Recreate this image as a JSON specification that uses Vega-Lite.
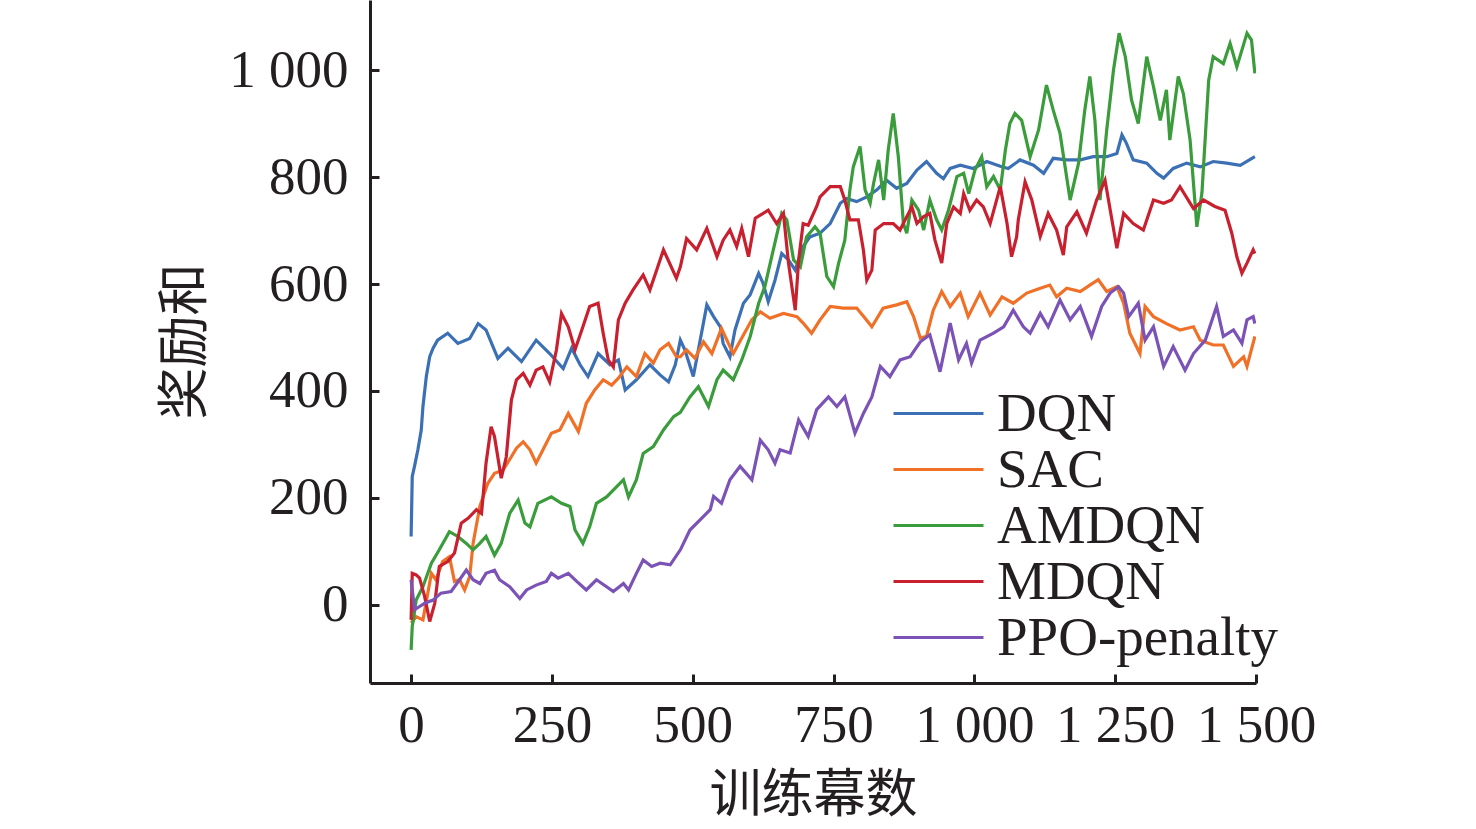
{
  "$schema": "https://vega.github.io/schema/vega-lite/v6.json",
  "autosize": "none",
  "width": 886,
  "height": 683,
  "padding": {"left": 370, "top": 0, "right": 220, "bottom": 146},
  "background": "white",
  "config": {
    "view": {"stroke": null},
    "font": "Liberation Serif",
    "axis": {
      "grid": false,
      "domainColor": "#231f20",
      "domainWidth": 3,
      "tickColor": "#231f20",
      "tickWidth": 3,
      "tickSize": -9,
      "labelFont": "Liberation Serif",
      "labelFontSize": 53,
      "labelColor": "#231f20",
      "titleFont": "Noto Sans CJK SC",
      "titleFontSize": 52,
      "titleFontWeight": "normal",
      "titleColor": "#231f20"
    }
  },
  "data": {
    "values": [
      {"algo":"DQN","episode":0,"reward":128},{"algo":"DQN","episode":2,"reward":240},{"algo":"DQN","episode":6,"reward":259},{"algo":"DQN","episode":12,"reward":290},{"algo":"DQN","episode":18,"reward":327},{"algo":"DQN","episode":21,"reward":371},{"algo":"DQN","episode":27,"reward":427},{"algo":"DQN","episode":33,"reward":464},{"algo":"DQN","episode":39,"reward":480},{"algo":"DQN","episode":47,"reward":495},{"algo":"DQN","episode":65,"reward":508},{"algo":"DQN","episode":83,"reward":489},{"algo":"DQN","episode":104,"reward":498},{"algo":"DQN","episode":119,"reward":526},{"algo":"DQN","episode":133,"reward":514},{"algo":"DQN","episode":154,"reward":461},{"algo":"DQN","episode":172,"reward":480},{"algo":"DQN","episode":196,"reward":455},{"algo":"DQN","episode":222,"reward":495},{"algo":"DQN","episode":246,"reward":470},{"algo":"DQN","episode":270,"reward":442},{"algo":"DQN","episode":285,"reward":480},{"algo":"DQN","episode":300,"reward":449},{"algo":"DQN","episode":314,"reward":427},{"algo":"DQN","episode":332,"reward":470},{"algo":"DQN","episode":353,"reward":449},{"algo":"DQN","episode":368,"reward":458},{"algo":"DQN","episode":380,"reward":402},{"algo":"DQN","episode":400,"reward":421},{"algo":"DQN","episode":424,"reward":449},{"algo":"DQN","episode":442,"reward":430},{"algo":"DQN","episode":457,"reward":417},{"algo":"DQN","episode":469,"reward":449},{"algo":"DQN","episode":478,"reward":495},{"algo":"DQN","episode":486,"reward":477},{"algo":"DQN","episode":501,"reward":427},{"algo":"DQN","episode":510,"reward":477},{"algo":"DQN","episode":525,"reward":561},{"algo":"DQN","episode":537,"reward":539},{"algo":"DQN","episode":549,"reward":520},{"algo":"DQN","episode":554,"reward":489},{"algo":"DQN","episode":566,"reward":464},{"algo":"DQN","episode":575,"reward":514},{"algo":"DQN","episode":590,"reward":564},{"algo":"DQN","episode":602,"reward":580},{"algo":"DQN","episode":617,"reward":620},{"algo":"DQN","episode":625,"reward":601},{"algo":"DQN","episode":634,"reward":567},{"algo":"DQN","episode":646,"reward":607},{"algo":"DQN","episode":658,"reward":657},{"algo":"DQN","episode":670,"reward":645},{"algo":"DQN","episode":682,"reward":626},{"algo":"DQN","episode":696,"reward":670},{"algo":"DQN","episode":708,"reward":688},{"algo":"DQN","episode":726,"reward":695},{"algo":"DQN","episode":744,"reward":713},{"algo":"DQN","episode":762,"reward":751},{"algo":"DQN","episode":773,"reward":760},{"algo":"DQN","episode":791,"reward":754},{"algo":"DQN","episode":809,"reward":763},{"algo":"DQN","episode":827,"reward":776},{"algo":"DQN","episode":844,"reward":794},{"algo":"DQN","episode":862,"reward":779},{"algo":"DQN","episode":880,"reward":788},{"algo":"DQN","episode":898,"reward":813},{"algo":"DQN","episode":915,"reward":829},{"algo":"DQN","episode":933,"reward":807},{"algo":"DQN","episode":945,"reward":797},{"algo":"DQN","episode":957,"reward":816},{"algo":"DQN","episode":975,"reward":822},{"algo":"DQN","episode":998,"reward":816},{"algo":"DQN","episode":1022,"reward":829},{"algo":"DQN","episode":1046,"reward":820},{"algo":"DQN","episode":1060,"reward":816},{"algo":"DQN","episode":1081,"reward":832},{"algo":"DQN","episode":1105,"reward":822},{"algo":"DQN","episode":1123,"reward":807},{"algo":"DQN","episode":1140,"reward":835},{"algo":"DQN","episode":1164,"reward":832},{"algo":"DQN","episode":1188,"reward":832},{"algo":"DQN","episode":1211,"reward":838},{"algo":"DQN","episode":1235,"reward":838},{"algo":"DQN","episode":1253,"reward":844},{"algo":"DQN","episode":1262,"reward":879},{"algo":"DQN","episode":1270,"reward":863},{"algo":"DQN","episode":1282,"reward":832},{"algo":"DQN","episode":1306,"reward":826},{"algo":"DQN","episode":1324,"reward":807},{"algo":"DQN","episode":1336,"reward":798},{"algo":"DQN","episode":1353,"reward":816},{"algo":"DQN","episode":1377,"reward":826},{"algo":"DQN","episode":1401,"reward":819},{"algo":"DQN","episode":1424,"reward":829},{"algo":"DQN","episode":1448,"reward":826},{"algo":"DQN","episode":1472,"reward":822},{"algo":"DQN","episode":1498,"reward":838},

      {"algo":"SAC","episode":0,"reward":-34},{"algo":"SAC","episode":9,"reward":-22},{"algo":"SAC","episode":21,"reward":-28},{"algo":"SAC","episode":36,"reward":59},{"algo":"SAC","episode":44,"reward":47},{"algo":"SAC","episode":56,"reward":81},{"algo":"SAC","episode":68,"reward":90},{"algo":"SAC","episode":77,"reward":44},{"algo":"SAC","episode":86,"reward":47},{"algo":"SAC","episode":95,"reward":28},{"algo":"SAC","episode":104,"reward":53},{"algo":"SAC","episode":110,"reward":115},{"algo":"SAC","episode":122,"reward":184},{"algo":"SAC","episode":136,"reward":227},{"algo":"SAC","episode":148,"reward":246},{"algo":"SAC","episode":163,"reward":252},{"algo":"SAC","episode":178,"reward":277},{"algo":"SAC","episode":187,"reward":293},{"algo":"SAC","episode":199,"reward":305},{"algo":"SAC","episode":211,"reward":290},{"algo":"SAC","episode":222,"reward":265},{"algo":"SAC","episode":237,"reward":296},{"algo":"SAC","episode":249,"reward":321},{"algo":"SAC","episode":264,"reward":327},{"algo":"SAC","episode":279,"reward":358},{"algo":"SAC","episode":297,"reward":324},{"algo":"SAC","episode":311,"reward":377},{"algo":"SAC","episode":326,"reward":402},{"algo":"SAC","episode":341,"reward":421},{"algo":"SAC","episode":356,"reward":411},{"algo":"SAC","episode":368,"reward":424},{"algo":"SAC","episode":383,"reward":445},{"algo":"SAC","episode":400,"reward":427},{"algo":"SAC","episode":415,"reward":470},{"algo":"SAC","episode":430,"reward":452},{"algo":"SAC","episode":442,"reward":477},{"algo":"SAC","episode":457,"reward":489},{"algo":"SAC","episode":471,"reward":464},{"algo":"SAC","episode":478,"reward":464},{"algo":"SAC","episode":489,"reward":477},{"algo":"SAC","episode":504,"reward":461},{"algo":"SAC","episode":519,"reward":492},{"algo":"SAC","episode":534,"reward":470},{"algo":"SAC","episode":551,"reward":517},{"algo":"SAC","episode":566,"reward":483},{"algo":"SAC","episode":572,"reward":470},{"algo":"SAC","episode":587,"reward":499},{"algo":"SAC","episode":605,"reward":533},{"algo":"SAC","episode":620,"reward":548},{"algo":"SAC","episode":637,"reward":536},{"algo":"SAC","episode":661,"reward":545},{"algo":"SAC","episode":685,"reward":539},{"algo":"SAC","episode":696,"reward":527},{"algo":"SAC","episode":711,"reward":508},{"algo":"SAC","episode":726,"reward":533},{"algo":"SAC","episode":744,"reward":558},{"algo":"SAC","episode":767,"reward":555},{"algo":"SAC","episode":791,"reward":555},{"algo":"SAC","episode":806,"reward":536},{"algo":"SAC","episode":818,"reward":520},{"algo":"SAC","episode":838,"reward":555},{"algo":"SAC","episode":862,"reward":561},{"algo":"SAC","episode":880,"reward":567},{"algo":"SAC","episode":892,"reward":539},{"algo":"SAC","episode":904,"reward":499},{"algo":"SAC","episode":915,"reward":502},{"algo":"SAC","episode":927,"reward":551},{"algo":"SAC","episode":942,"reward":586},{"algo":"SAC","episode":957,"reward":558},{"algo":"SAC","episode":975,"reward":583},{"algo":"SAC","episode":989,"reward":539},{"algo":"SAC","episode":1010,"reward":583},{"algo":"SAC","episode":1028,"reward":542},{"algo":"SAC","episode":1049,"reward":576},{"algo":"SAC","episode":1069,"reward":564},{"algo":"SAC","episode":1093,"reward":583},{"algo":"SAC","episode":1117,"reward":592},{"algo":"SAC","episode":1134,"reward":598},{"algo":"SAC","episode":1146,"reward":576},{"algo":"SAC","episode":1164,"reward":592},{"algo":"SAC","episode":1188,"reward":586},{"algo":"SAC","episode":1205,"reward":598},{"algo":"SAC","episode":1220,"reward":608},{"algo":"SAC","episode":1235,"reward":586},{"algo":"SAC","episode":1253,"reward":595},{"algo":"SAC","episode":1265,"reward":564},{"algo":"SAC","episode":1276,"reward":508},{"algo":"SAC","episode":1294,"reward":470},{"algo":"SAC","episode":1303,"reward":558},{"algo":"SAC","episode":1318,"reward":539},{"algo":"SAC","episode":1341,"reward":526},{"algo":"SAC","episode":1365,"reward":514},{"algo":"SAC","episode":1389,"reward":520},{"algo":"SAC","episode":1401,"reward":495},{"algo":"SAC","episode":1424,"reward":486},{"algo":"SAC","episode":1442,"reward":486},{"algo":"SAC","episode":1460,"reward":446},{"algo":"SAC","episode":1478,"reward":464},{"algo":"SAC","episode":1484,"reward":446},{"algo":"SAC","episode":1498,"reward":502},

      {"algo":"AMDQN","episode":0,"reward":-84},{"algo":"AMDQN","episode":2,"reward":-40},{"algo":"AMDQN","episode":4,"reward":-28},{"algo":"AMDQN","episode":9,"reward":9},{"algo":"AMDQN","episode":21,"reward":34},{"algo":"AMDQN","episode":36,"reward":78},{"algo":"AMDQN","episode":50,"reward":103},{"algo":"AMDQN","episode":68,"reward":137},{"algo":"AMDQN","episode":83,"reward":128},{"algo":"AMDQN","episode":98,"reward":115},{"algo":"AMDQN","episode":110,"reward":103},{"algo":"AMDQN","episode":122,"reward":115},{"algo":"AMDQN","episode":133,"reward":128},{"algo":"AMDQN","episode":148,"reward":93},{"algo":"AMDQN","episode":160,"reward":115},{"algo":"AMDQN","episode":175,"reward":171},{"algo":"AMDQN","episode":190,"reward":196},{"algo":"AMDQN","episode":202,"reward":153},{"algo":"AMDQN","episode":211,"reward":146},{"algo":"AMDQN","episode":225,"reward":190},{"algo":"AMDQN","episode":249,"reward":202},{"algo":"AMDQN","episode":267,"reward":190},{"algo":"AMDQN","episode":282,"reward":184},{"algo":"AMDQN","episode":291,"reward":140},{"algo":"AMDQN","episode":305,"reward":115},{"algo":"AMDQN","episode":317,"reward":146},{"algo":"AMDQN","episode":329,"reward":190},{"algo":"AMDQN","episode":347,"reward":202},{"algo":"AMDQN","episode":365,"reward":221},{"algo":"AMDQN","episode":377,"reward":234},{"algo":"AMDQN","episode":386,"reward":202},{"algo":"AMDQN","episode":400,"reward":234},{"algo":"AMDQN","episode":412,"reward":283},{"algo":"AMDQN","episode":430,"reward":296},{"algo":"AMDQN","episode":448,"reward":327},{"algo":"AMDQN","episode":466,"reward":352},{"algo":"AMDQN","episode":478,"reward":360},{"algo":"AMDQN","episode":495,"reward":389},{"algo":"AMDQN","episode":510,"reward":408},{"algo":"AMDQN","episode":528,"reward":371},{"algo":"AMDQN","episode":543,"reward":421},{"algo":"AMDQN","episode":554,"reward":439},{"algo":"AMDQN","episode":572,"reward":421},{"algo":"AMDQN","episode":587,"reward":458},{"algo":"AMDQN","episode":602,"reward":502},{"algo":"AMDQN","episode":617,"reward":564},{"algo":"AMDQN","episode":628,"reward":595},{"algo":"AMDQN","episode":643,"reward":664},{"algo":"AMDQN","episode":658,"reward":732},{"algo":"AMDQN","episode":667,"reward":720},{"algo":"AMDQN","episode":679,"reward":645},{"algo":"AMDQN","episode":691,"reward":632},{"algo":"AMDQN","episode":702,"reward":688},{"algo":"AMDQN","episode":717,"reward":707},{"algo":"AMDQN","episode":726,"reward":695},{"algo":"AMDQN","episode":738,"reward":614},{"algo":"AMDQN","episode":750,"reward":595},{"algo":"AMDQN","episode":759,"reward":639},{"algo":"AMDQN","episode":770,"reward":682},{"algo":"AMDQN","episode":779,"reward":776},{"algo":"AMDQN","episode":785,"reward":819},{"algo":"AMDQN","episode":797,"reward":857},{"algo":"AMDQN","episode":806,"reward":776},{"algo":"AMDQN","episode":815,"reward":751},{"algo":"AMDQN","episode":821,"reward":788},{"algo":"AMDQN","episode":830,"reward":832},{"algo":"AMDQN","episode":839,"reward":757},{"algo":"AMDQN","episode":847,"reward":850},{"algo":"AMDQN","episode":856,"reward":919},{"algo":"AMDQN","episode":865,"reward":838},{"algo":"AMDQN","episode":874,"reward":713},{"algo":"AMDQN","episode":880,"reward":695},{"algo":"AMDQN","episode":889,"reward":757},{"algo":"AMDQN","episode":901,"reward":738},{"algo":"AMDQN","episode":910,"reward":701},{"algo":"AMDQN","episode":921,"reward":757},{"algo":"AMDQN","episode":933,"reward":720},{"algo":"AMDQN","episode":942,"reward":701},{"algo":"AMDQN","episode":954,"reward":738},{"algo":"AMDQN","episode":969,"reward":801},{"algo":"AMDQN","episode":981,"reward":807},{"algo":"AMDQN","episode":990,"reward":769},{"algo":"AMDQN","episode":1001,"reward":813},{"algo":"AMDQN","episode":1013,"reward":838},{"algo":"AMDQN","episode":1022,"reward":782},{"algo":"AMDQN","episode":1034,"reward":801},{"algo":"AMDQN","episode":1046,"reward":776},{"algo":"AMDQN","episode":1055,"reward":850},{"algo":"AMDQN","episode":1063,"reward":900},{"algo":"AMDQN","episode":1072,"reward":919},{"algo":"AMDQN","episode":1084,"reward":906},{"algo":"AMDQN","episode":1099,"reward":838},{"algo":"AMDQN","episode":1114,"reward":888},{"algo":"AMDQN","episode":1128,"reward":972},{"algo":"AMDQN","episode":1140,"reward":925},{"algo":"AMDQN","episode":1152,"reward":882},{"algo":"AMDQN","episode":1170,"reward":757},{"algo":"AMDQN","episode":1185,"reward":826},{"algo":"AMDQN","episode":1196,"reward":925},{"algo":"AMDQN","episode":1205,"reward":988},{"algo":"AMDQN","episode":1214,"reward":906},{"algo":"AMDQN","episode":1223,"reward":757},{"algo":"AMDQN","episode":1235,"reward":888},{"algo":"AMDQN","episode":1247,"reward":1000},{"algo":"AMDQN","episode":1257,"reward":1069},{"algo":"AMDQN","episode":1268,"reward":1025},{"algo":"AMDQN","episode":1279,"reward":944},{"algo":"AMDQN","episode":1291,"reward":900},{"algo":"AMDQN","episode":1306,"reward":1025},{"algo":"AMDQN","episode":1318,"reward":969},{"algo":"AMDQN","episode":1330,"reward":906},{"algo":"AMDQN","episode":1341,"reward":963},{"algo":"AMDQN","episode":1347,"reward":869},{"algo":"AMDQN","episode":1362,"reward":988},{"algo":"AMDQN","episode":1371,"reward":956},{"algo":"AMDQN","episode":1383,"reward":869},{"algo":"AMDQN","episode":1395,"reward":707},{"algo":"AMDQN","episode":1404,"reward":770},{"algo":"AMDQN","episode":1416,"reward":981},{"algo":"AMDQN","episode":1424,"reward":1025},{"algo":"AMDQN","episode":1442,"reward":1012},{"algo":"AMDQN","episode":1454,"reward":1050},{"algo":"AMDQN","episode":1466,"reward":1006},{"algo":"AMDQN","episode":1484,"reward":1069},{"algo":"AMDQN","episode":1492,"reward":1056},{"algo":"AMDQN","episode":1498,"reward":994},

      {"algo":"MDQN","episode":0,"reward":-28},{"algo":"MDQN","episode":2,"reward":59},{"algo":"MDQN","episode":9,"reward":56},{"algo":"MDQN","episode":15,"reward":50},{"algo":"MDQN","episode":24,"reward":16},{"algo":"MDQN","episode":33,"reward":-31},{"algo":"MDQN","episode":42,"reward":3},{"algo":"MDQN","episode":50,"reward":72},{"algo":"MDQN","episode":65,"reward":81},{"algo":"MDQN","episode":77,"reward":97},{"algo":"MDQN","episode":89,"reward":153},{"algo":"MDQN","episode":101,"reward":162},{"algo":"MDQN","episode":116,"reward":178},{"algo":"MDQN","episode":125,"reward":171},{"algo":"MDQN","episode":133,"reward":265},{"algo":"MDQN","episode":142,"reward":333},{"algo":"MDQN","episode":148,"reward":315},{"algo":"MDQN","episode":160,"reward":237},{"algo":"MDQN","episode":169,"reward":277},{"algo":"MDQN","episode":178,"reward":383},{"algo":"MDQN","episode":187,"reward":421},{"algo":"MDQN","episode":199,"reward":433},{"algo":"MDQN","episode":211,"reward":411},{"algo":"MDQN","episode":222,"reward":439},{"algo":"MDQN","episode":234,"reward":445},{"algo":"MDQN","episode":246,"reward":417},{"algo":"MDQN","episode":258,"reward":477},{"algo":"MDQN","episode":267,"reward":545},{"algo":"MDQN","episode":279,"reward":520},{"algo":"MDQN","episode":291,"reward":477},{"algo":"MDQN","episode":305,"reward":520},{"algo":"MDQN","episode":317,"reward":558},{"algo":"MDQN","episode":332,"reward":564},{"algo":"MDQN","episode":341,"reward":508},{"algo":"MDQN","episode":350,"reward":458},{"algo":"MDQN","episode":359,"reward":445},{"algo":"MDQN","episode":368,"reward":533},{"algo":"MDQN","episode":380,"reward":564},{"algo":"MDQN","episode":394,"reward":589},{"algo":"MDQN","episode":412,"reward":617},{"algo":"MDQN","episode":424,"reward":589},{"algo":"MDQN","episode":436,"reward":626},{"algo":"MDQN","episode":448,"reward":664},{"algo":"MDQN","episode":471,"reward":611},{"algo":"MDQN","episode":478,"reward":632},{"algo":"MDQN","episode":489,"reward":685},{"algo":"MDQN","episode":507,"reward":664},{"algo":"MDQN","episode":525,"reward":704},{"algo":"MDQN","episode":543,"reward":651},{"algo":"MDQN","episode":554,"reward":682},{"algo":"MDQN","episode":566,"reward":701},{"algo":"MDQN","episode":578,"reward":670},{"algo":"MDQN","episode":587,"reward":704},{"algo":"MDQN","episode":599,"reward":651},{"algo":"MDQN","episode":611,"reward":723},{"algo":"MDQN","episode":634,"reward":738},{"algo":"MDQN","episode":649,"reward":713},{"algo":"MDQN","episode":661,"reward":732},{"algo":"MDQN","episode":670,"reward":639},{"algo":"MDQN","episode":682,"reward":551},{"algo":"MDQN","episode":688,"reward":645},{"algo":"MDQN","episode":696,"reward":713},{"algo":"MDQN","episode":705,"reward":710},{"algo":"MDQN","episode":720,"reward":745},{"algo":"MDQN","episode":726,"reward":763},{"algo":"MDQN","episode":744,"reward":782},{"algo":"MDQN","episode":762,"reward":782},{"algo":"MDQN","episode":770,"reward":757},{"algo":"MDQN","episode":779,"reward":720},{"algo":"MDQN","episode":794,"reward":720},{"algo":"MDQN","episode":803,"reward":663},{"algo":"MDQN","episode":809,"reward":607},{"algo":"MDQN","episode":818,"reward":626},{"algo":"MDQN","episode":824,"reward":701},{"algo":"MDQN","episode":839,"reward":713},{"algo":"MDQN","episode":856,"reward":713},{"algo":"MDQN","episode":868,"reward":701},{"algo":"MDQN","episode":880,"reward":726},{"algo":"MDQN","episode":889,"reward":744},{"algo":"MDQN","episode":898,"reward":713},{"algo":"MDQN","episode":910,"reward":726},{"algo":"MDQN","episode":921,"reward":732},{"algo":"MDQN","episode":930,"reward":682},{"algo":"MDQN","episode":942,"reward":639},{"algo":"MDQN","episode":951,"reward":713},{"algo":"MDQN","episode":963,"reward":744},{"algo":"MDQN","episode":975,"reward":732},{"algo":"MDQN","episode":981,"reward":769},{"algo":"MDQN","episode":992,"reward":738},{"algo":"MDQN","episode":1004,"reward":757},{"algo":"MDQN","episode":1016,"reward":744},{"algo":"MDQN","episode":1028,"reward":713},{"algo":"MDQN","episode":1046,"reward":782},{"algo":"MDQN","episode":1058,"reward":713},{"algo":"MDQN","episode":1066,"reward":651},{"algo":"MDQN","episode":1075,"reward":688},{"algo":"MDQN","episode":1078,"reward":720},{"algo":"MDQN","episode":1090,"reward":791},{"algo":"MDQN","episode":1102,"reward":757},{"algo":"MDQN","episode":1117,"reward":689},{"algo":"MDQN","episode":1131,"reward":732},{"algo":"MDQN","episode":1146,"reward":701},{"algo":"MDQN","episode":1158,"reward":654},{"algo":"MDQN","episode":1164,"reward":707},{"algo":"MDQN","episode":1182,"reward":735},{"algo":"MDQN","episode":1199,"reward":695},{"algo":"MDQN","episode":1217,"reward":757},{"algo":"MDQN","episode":1232,"reward":794},{"algo":"MDQN","episode":1253,"reward":667},{"algo":"MDQN","episode":1265,"reward":732},{"algo":"MDQN","episode":1282,"reward":713},{"algo":"MDQN","episode":1300,"reward":701},{"algo":"MDQN","episode":1318,"reward":757},{"algo":"MDQN","episode":1336,"reward":751},{"algo":"MDQN","episode":1350,"reward":757},{"algo":"MDQN","episode":1365,"reward":782},{"algo":"MDQN","episode":1389,"reward":741},{"algo":"MDQN","episode":1407,"reward":757},{"algo":"MDQN","episode":1427,"reward":745},{"algo":"MDQN","episode":1445,"reward":738},{"algo":"MDQN","episode":1457,"reward":695},{"algo":"MDQN","episode":1466,"reward":651},{"algo":"MDQN","episode":1475,"reward":620},{"algo":"MDQN","episode":1484,"reward":639},{"algo":"MDQN","episode":1495,"reward":664},{"algo":"MDQN","episode":1498,"reward":657},

      {"algo":"PPO-penalty","episode":0,"reward":47},{"algo":"PPO-penalty","episode":6,"reward":-9},{"algo":"PPO-penalty","episode":15,"reward":-3},{"algo":"PPO-penalty","episode":24,"reward":3},{"algo":"PPO-penalty","episode":39,"reward":9},{"algo":"PPO-penalty","episode":53,"reward":22},{"algo":"PPO-penalty","episode":71,"reward":25},{"algo":"PPO-penalty","episode":86,"reward":47},{"algo":"PPO-penalty","episode":98,"reward":65},{"algo":"PPO-penalty","episode":110,"reward":47},{"algo":"PPO-penalty","episode":122,"reward":40},{"algo":"PPO-penalty","episode":133,"reward":59},{"algo":"PPO-penalty","episode":148,"reward":65},{"algo":"PPO-penalty","episode":157,"reward":47},{"algo":"PPO-penalty","episode":175,"reward":34},{"algo":"PPO-penalty","episode":193,"reward":12},{"algo":"PPO-penalty","episode":205,"reward":28},{"algo":"PPO-penalty","episode":222,"reward":37},{"algo":"PPO-penalty","episode":240,"reward":44},{"algo":"PPO-penalty","episode":249,"reward":59},{"algo":"PPO-penalty","episode":261,"reward":50},{"algo":"PPO-penalty","episode":279,"reward":59},{"algo":"PPO-penalty","episode":294,"reward":44},{"algo":"PPO-penalty","episode":311,"reward":28},{"algo":"PPO-penalty","episode":329,"reward":47},{"algo":"PPO-penalty","episode":347,"reward":34},{"algo":"PPO-penalty","episode":359,"reward":25},{"algo":"PPO-penalty","episode":377,"reward":40},{"algo":"PPO-penalty","episode":386,"reward":28},{"algo":"PPO-penalty","episode":400,"reward":59},{"algo":"PPO-penalty","episode":412,"reward":84},{"algo":"PPO-penalty","episode":427,"reward":72},{"algo":"PPO-penalty","episode":442,"reward":78},{"algo":"PPO-penalty","episode":460,"reward":75},{"algo":"PPO-penalty","episode":478,"reward":103},{"algo":"PPO-penalty","episode":495,"reward":140},{"algo":"PPO-penalty","episode":513,"reward":159},{"algo":"PPO-penalty","episode":531,"reward":178},{"algo":"PPO-penalty","episode":537,"reward":203},{"algo":"PPO-penalty","episode":551,"reward":190},{"algo":"PPO-penalty","episode":566,"reward":234},{"algo":"PPO-penalty","episode":584,"reward":259},{"algo":"PPO-penalty","episode":605,"reward":234},{"algo":"PPO-penalty","episode":620,"reward":308},{"algo":"PPO-penalty","episode":634,"reward":290},{"algo":"PPO-penalty","episode":646,"reward":265},{"algo":"PPO-penalty","episode":655,"reward":290},{"algo":"PPO-penalty","episode":673,"reward":284},{"algo":"PPO-penalty","episode":688,"reward":346},{"algo":"PPO-penalty","episode":705,"reward":315},{"algo":"PPO-penalty","episode":720,"reward":365},{"algo":"PPO-penalty","episode":741,"reward":389},{"algo":"PPO-penalty","episode":756,"reward":371},{"algo":"PPO-penalty","episode":770,"reward":389},{"algo":"PPO-penalty","episode":788,"reward":321},{"algo":"PPO-penalty","episode":803,"reward":358},{"algo":"PPO-penalty","episode":818,"reward":389},{"algo":"PPO-penalty","episode":833,"reward":446},{"algo":"PPO-penalty","episode":850,"reward":427},{"algo":"PPO-penalty","episode":868,"reward":458},{"algo":"PPO-penalty","episode":886,"reward":464},{"algo":"PPO-penalty","episode":904,"reward":492},{"algo":"PPO-penalty","episode":921,"reward":505},{"algo":"PPO-penalty","episode":939,"reward":436},{"algo":"PPO-penalty","episode":957,"reward":527},{"algo":"PPO-penalty","episode":972,"reward":458},{"algo":"PPO-penalty","episode":986,"reward":489},{"algo":"PPO-penalty","episode":995,"reward":452},{"algo":"PPO-penalty","episode":1010,"reward":495},{"algo":"PPO-penalty","episode":1034,"reward":508},{"algo":"PPO-penalty","episode":1052,"reward":520},{"algo":"PPO-penalty","episode":1069,"reward":551},{"algo":"PPO-penalty","episode":1087,"reward":520},{"algo":"PPO-penalty","episode":1099,"reward":508},{"algo":"PPO-penalty","episode":1117,"reward":545},{"algo":"PPO-penalty","episode":1131,"reward":520},{"algo":"PPO-penalty","episode":1152,"reward":570},{"algo":"PPO-penalty","episode":1170,"reward":533},{"algo":"PPO-penalty","episode":1188,"reward":558},{"algo":"PPO-penalty","episode":1208,"reward":502},{"algo":"PPO-penalty","episode":1226,"reward":558},{"algo":"PPO-penalty","episode":1241,"reward":583},{"algo":"PPO-penalty","episode":1256,"reward":595},{"algo":"PPO-penalty","episode":1265,"reward":583},{"algo":"PPO-penalty","episode":1274,"reward":539},{"algo":"PPO-penalty","episode":1291,"reward":564},{"algo":"PPO-penalty","episode":1303,"reward":495},{"algo":"PPO-penalty","episode":1318,"reward":520},{"algo":"PPO-penalty","episode":1336,"reward":446},{"algo":"PPO-penalty","episode":1353,"reward":483},{"algo":"PPO-penalty","episode":1374,"reward":439},{"algo":"PPO-penalty","episode":1389,"reward":470},{"algo":"PPO-penalty","episode":1410,"reward":495},{"algo":"PPO-penalty","episode":1430,"reward":558},{"algo":"PPO-penalty","episode":1442,"reward":502},{"algo":"PPO-penalty","episode":1460,"reward":514},{"algo":"PPO-penalty","episode":1475,"reward":489},{"algo":"PPO-penalty","episode":1484,"reward":533},{"algo":"PPO-penalty","episode":1495,"reward":539},{"algo":"PPO-penalty","episode":1498,"reward":526}
    ]
  },
  "mark": {"type": "line", "strokeWidth": 3.2, "clip": true},
  "encoding": {
    "x": {
      "field": "episode",
      "type": "quantitative",
      "scale": {"domain": [-73, 1500], "nice": false, "zero": false},
      "axis": {
        "values": [0, 250, 500, 750, 1000, 1250, 1500],
        "labelExpr": "replace(format(datum.value, ','), ',', ' ')",
        "labelPadding": 25,
        "labelFlush": false,
        "title": "训练幕数",
        "titleX": 443,
        "titleY": 112,
        "titleBaseline": "middle",
        "titleAlign": "center"
      }
    },
    "y": {
      "field": "reward",
      "type": "quantitative",
      "scale": {"domain": [-146, 1131], "nice": false, "zero": false},
      "axis": {
        "values": [0, 200, 400, 600, 800, 1000],
        "labelExpr": "replace(format(datum.value, ','), ',', ' ')",
        "labelPadding": 31,
        "labelBaseline": "middle",
        "title": "奖励和",
        "titleX": -185,
        "titleY": 341,
        "titleAngle": -90,
        "titleBaseline": "middle",
        "titleAlign": "center"
      }
    },
    "color": {
      "field": "algo",
      "type": "nominal",
      "sort": ["DQN", "SAC", "AMDQN", "MDQN", "PPO-penalty"],
      "scale": {
        "domain": ["DQN", "SAC", "AMDQN", "MDQN", "PPO-penalty"],
        "range": ["#3b70b5", "#f07027", "#3a9c3b", "#c8202f", "#7b52b5"]
      },
      "legend": {
        "orient": "none",
        "legendX": 522,
        "legendY": 386,
        "title": null,
        "padding": 0,
        "symbolType": "stroke",
        "symbolSize": 8100,
        "symbolStrokeWidth": 3,
        "clipHeight": 55,
        "rowPadding": 0,
        "labelOffset": 12,
        "labelFont": "Liberation Serif",
        "labelFontSize": 55,
        "labelColor": "#231f20",
        "labelLimit": 0
      }
    }
  }
}
